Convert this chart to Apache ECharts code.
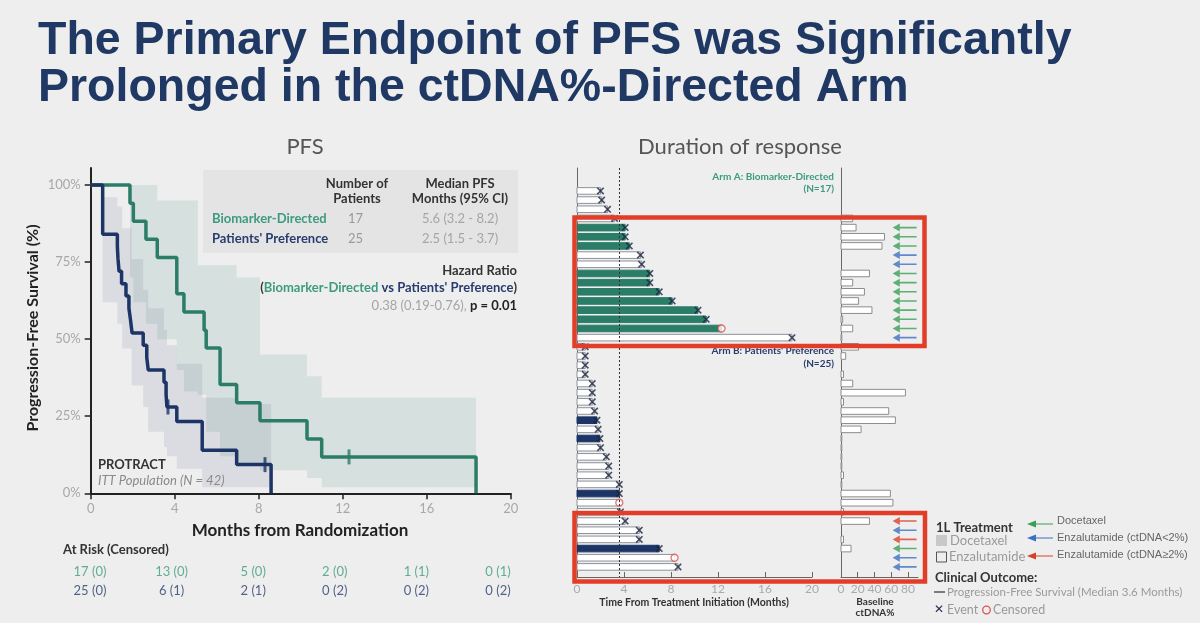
<!DOCTYPE html>
<html lang="en">
<head>
<meta charset="UTF-8">
<title>PFS - ctDNA%-Directed Arm</title>
<script src="https://cdn.jsdelivr.net/npm/echarts@6/dist/echarts.min.js"></script>
<style>
  html, body { margin: 0; padding: 0; background: #eeeeee; }
  #main { width: 1200px; height: 623px; }
</style>
</head>
<body>
<div id="main"></div>
<script>
// ---- KM curves: [month, survival %] at every drop ----
var kmGreen = [[0,100],[1.87,94.1],[2.03,88.2],[2.63,82.4],[3.17,76.5],[4.1,64.7],[4.44,58.8],[5.4,52.9],[5.5,47.1],[6.16,35.3],[6.95,29.4],[8.06,23.5],[10.3,17.6],[11.0,11.8],[18.35,0]];
var kmNavy = [[0,100],[0.57,84],[1.27,80],[1.3,76],[1.35,72],[1.47,68],[1.68,64],[1.82,60],[1.9,56],[1.97,52],[2.5,48],[2.67,44],[2.74,40],[3.49,36],[3.59,32],[3.63,28],[4.1,23.3],[5.31,14.0],[6.95,9.3],[8.59,0]];
var censGreen = [[12.3,11.8]];
var censNavy = [[3.68,28],[8.3,9.3]];
// confidence bands: [from, to, lower %, upper %]
var ciGreen = [[1.87,2.03,70,100],[2.03,2.63,62,100],[2.63,3.17,55,100],[3.17,4.1,50,95],[4.1,4.44,40,95],[4.44,5.1,33,95],[5.1,5.5,32,74],[5.5,6.16,20,74],[6.16,6.95,12,74],[6.95,8.06,9.5,70],[8.06,10.3,7.5,45],[10.3,11.0,5,38],[11.0,18.35,2,31]];
var ciNavy = [[0.57,1.27,62,96],[1.27,1.5,55,93],[1.5,1.95,47,86],[1.95,2.5,35,76],[2.5,2.74,28,66],[2.74,3.49,20,60],[3.49,3.63,15,53],[3.63,4.1,12,48],[4.1,5.31,8,42],[5.31,6.95,2,31],[6.95,8.59,2,29]];

// at risk table
var riskTimes = [0,4,8,12,16,20];
var riskGreen = ['17 (0)','13 (0)','5 (0)','2 (0)','1 (1)','0 (1)'];
var riskNavy = ['25 (0)','6 (1)','2 (1)','0 (2)','0 (2)','0 (2)'];

// ---- swimmer plot, top to bottom ----
// fill: 1 = Docetaxel (filled), 0 = Enzalutamide (open); outcome x = event, o = censored
var armAMonths = [2.0,2.1,2.6,3.2,4.1,4.1,4.45,5.4,5.5,6.2,6.2,7.0,8.1,10.3,11.0,12.3,18.3];
var armAFill   = [0,0,0,0,1,1,1,0,0,1,1,1,1,1,1,1,0];
var armAOut    = ['x','x','x','x','x','x','x','x','x','x','x','x','x','x','x','o','x'];
var armACtdna  = [0,0,0,14,18,52,49,0,0,34,14,28,21,37,2,14,1];
var armAArrow  = ['','','','','g','g','g','b','b','g','g','g','g','g','g','g','b'];

var armBMonths = [0.7,0.7,0.7,0.7,1.3,1.3,1.3,1.5,1.7,1.8,1.95,2.0,2.5,2.7,2.7,3.6,3.6,3.6,3.7,4.1,5.3,5.3,7.0,8.3,8.6];
var armBFill   = [0,0,0,0,0,0,0,0,1,0,1,0,0,0,0,0,1,0,0,0,0,0,1,0,0];
var armBOut    = ['x','x','x','x','x','x','x','x','x','x','x','x','x','x','x','x','x','o','x','x','x','x','x','o','x'];
var armBCtdna  = [21,5.6,0,3,14,77,3,57,65,24,1,1,1,1,3,1,59,62,3,34,0,3,12,0,0];
var armBArrow  = ['','','','','','','','','','','','','','','','','','','','r','b','r','g','b','b'];

var medianPfs = 3.6;

var TEAL = '#2b7d68', NAVY = '#1c3566';
var TEAL_T = '#3d9b80', NAVY_T = '#283d6e';
var arrowColors = { g: '#3a9f55', b: '#3d6fc2', r: '#d9402c' };

// build rows
var bars = [], events = [], censored = [], ctdna = [], arrows = [];
function addArm(months, fill, out, ct, arr, arm, offset) {
  for (var i = 0; i < months.length; i++) {
    var row = offset + i;
    bars.push([months[i], row, fill[i], arm]);
    if (out[i] === 'x') events.push([months[i], row]);
    else censored.push([months[i], row]);
    if (ct[i] > 0) ctdna.push([ct[i], row]);
    if (arr[i]) arrows.push({ value: [76, row], itemStyle: { color: arrowColors[arr[i]] } });
  }
}
addArm(armAMonths, armAFill, armAOut, armACtdna, armAArrow, 0, 0);
addArm(armBMonths, armBFill, armBOut, armBCtdna, armBArrow, 1, armAMonths.length);

var riskData = [];
riskTimes.forEach(function (t, i) {
  riskData.push({ value: [t, 0, riskGreen[i]], label: { color: TEAL_T } });
  riskData.push({ value: [t, 1, riskNavy[i]], label: { color: NAVY_T } });
});

function bandRender(color) {
  return function (params, api) {
    var p0 = api.coord([api.value(0), api.value(3)]);
    var p1 = api.coord([api.value(1), api.value(2)]);
    return { type: 'rect', shape: { x: p0[0], y: p0[1], width: p1[0] - p0[0], height: p1[1] - p0[1] },
             style: { fill: color } };
  };
}

var X_PATH = 'path://M1.5,0 L5,3.5 L8.5,0 L10,1.5 L6.5,5 L10,8.5 L8.5,10 L5,6.5 L1.5,10 L0,8.5 L3.5,5 L0,1.5 Z';
var ARROW_PATH = 'path://M0,5 L9,0 L9,4 L30,4 L30,6 L9,6 L9,10 Z';

function txt(x, y, text, font, fill, align, extra) {
  var el = { type: 'text', x: x, y: y, z: 100,
    style: { text: text, font: font, fill: fill, textAlign: align || 'left', align: align || 'left',
             textVerticalAlign: 'middle', verticalAlign: 'middle' } };
  if (extra) for (var k in extra) el[k] = extra[k];
  return el;
}
function arrowG(x, y, color) {
  return [
    { type: 'line', z: 100, shape: { x1: x + 8, y1: y, x2: x + 26, y2: y }, style: { stroke: color, lineWidth: 1 } },
    { type: 'polygon', z: 100, shape: { points: [[x, y], [x + 9, y - 3.5], [x + 9, y + 3.5]] }, style: { fill: color } }
  ];
}

var graphics = [
  { type: 'rect', z: -10, shape: { x: 203, y: 170, width: 315, height: 83 }, style: { fill: '#e4e4e4' } },
  txt(38, 41, 'The Primary Endpoint of PFS was Significantly', 'bold 46.5px "Liberation Sans", Arial', '#1f3864'),
  txt(38, 88, 'Prolonged in the ctDNA%-Directed Arm', 'bold 46.5px "Liberation Sans", Arial', '#1f3864'),
  txt(305, 147, 'PFS', '22px Lato', '#555555', 'center'),
  txt(740, 147, 'Duration of response', '22px Lato', '#555555', 'center'),

  txt(357, 184, 'Number of', 'bold 13px Lato', '#333333', 'center'),
  txt(357, 199, 'Patients', 'bold 13px Lato', '#333333', 'center'),
  txt(460, 184, 'Median PFS', 'bold 13px Lato', '#333333', 'center'),
  txt(460, 199, 'Months (95% CI)', 'bold 13px Lato', '#333333', 'center'),
  txt(212, 219, 'Biomarker-Directed', 'bold 13px Lato', TEAL_T),
  txt(348, 219, '17', '13px Lato', '#9a9a9a'),
  txt(460, 219, '5.6 (3.2 - 8.2)', '13px Lato', '#a5a5a5', 'center'),
  txt(212, 239, "Patients' Preference", 'bold 13px Lato', NAVY_T),
  txt(348, 239, '25', '13px Lato', '#9a9a9a'),
  txt(460, 239, '2.5 (1.5 - 3.7)', '13px Lato', '#a5a5a5', 'center'),
  txt(517, 271, 'Hazard Ratio', 'bold 13px Lato', '#333333', 'right'),
  { type: 'text', x: 517, y: 288, z: 100, style: {
      text: '{d|(}{g|Biomarker-Directed}{n| vs Patients\' Preference}{d|)}',
      textAlign: 'right', align: 'right', textVerticalAlign: 'middle', verticalAlign: 'middle',
      font: 'bold 13px Lato',
      rich: { d: { fill: '#333333', font: 'bold 13px Lato' }, g: { fill: TEAL_T, font: 'bold 13px Lato' }, n: { fill: NAVY_T, font: 'bold 13px Lato' } } } },
  { type: 'text', x: 517, y: 306, z: 100, style: {
      text: '{a|0.38 (0.19-0.76), }{b|p = 0.01}',
      textAlign: 'right', align: 'right', textVerticalAlign: 'middle', verticalAlign: 'middle',
      font: '13px Lato',
      rich: { a: { fill: '#a5a5a5', font: '13px Lato' }, b: { fill: '#222222', font: 'bold 13px Lato' } } } },

  txt(98, 465, 'PROTRACT', 'bold 13px Lato', '#333333'),
  txt(98, 481, 'ITT Population (N = 42)', 'italic 13px Lato', '#8a8a8a'),
  txt(33, 328, 'Progression-Free Survival (%)', 'bold 16px Lato', '#222222', 'center', { rotation: Math.PI / 2 }),
  txt(300, 531, 'Months from Randomization', 'bold 17px Lato', '#222222', 'center'),
  txt(63, 550, 'At Risk (Censored)', 'bold 13px Lato', '#333333'),

  txt(834, 177, 'Arm A: Biomarker-Directed', 'bold 10px Lato', TEAL_T, 'right'),
  txt(834, 189, '(N=17)', 'bold 10px Lato', TEAL_T, 'right'),
  txt(834, 351, "Arm B: Patients' Preference", 'bold 10px Lato', NAVY_T, 'right'),
  txt(834, 364, '(N=25)', 'bold 10px Lato', NAVY_T, 'right'),
  txt(694, 603, 'Time From Treatment Initiation (Months)', 'bold 10.5px Lato', '#333333', 'center'),
  txt(875, 602, 'Baseline', 'bold 10px Lato', '#333333', 'center'),
  txt(875, 613, 'ctDNA%', 'bold 10px Lato', '#333333', 'center'),

  { type: 'rect', z: 200, shape: { x: 574.5, y: 217.5, width: 350, height: 128.5 }, style: { fill: 'none', stroke: '#e23d28', lineWidth: 4.5 } },
  { type: 'rect', z: 200, shape: { x: 574.5, y: 513, width: 350.5, height: 68.5 }, style: { fill: 'none', stroke: '#e23d28', lineWidth: 4.5 } },

  txt(936, 528, '1L Treatment', 'bold 13px Lato', '#333333'),
  { type: 'rect', z: 100, shape: { x: 936, y: 535, width: 11, height: 11 }, style: { fill: '#c8c8c8' } },
  txt(950, 541, 'Docetaxel', '13px Lato', '#9a9a9a'),
  { type: 'rect', z: 100, shape: { x: 936.5, y: 552, width: 10, height: 10 }, style: { fill: 'none', stroke: '#555555', lineWidth: 1 } },
  txt(949, 557, 'Enzalutamide', '13px Lato', '#9a9a9a'),
  txt(1057, 521, 'Docetaxel', '11px "Liberation Sans", Arial', '#666666'),
  txt(1057, 538, 'Enzalutamide (ctDNA<2%)', '11px "Liberation Sans", Arial', '#666666'),
  txt(1057, 555, 'Enzalutamide (ctDNA\u22652%)', '11px "Liberation Sans", Arial', '#666666'),
  txt(935, 578, 'Clinical Outcome:', 'bold 13px Lato', '#333333'),
  { type: 'line', z: 100, shape: { x1: 934, y1: 592, x2: 945, y2: 592 }, style: { stroke: '#555555', lineWidth: 1.5 } },
  txt(947, 592, 'Progression-Free Survival (Median 3.6 Months)', '11.5px Lato', '#9a9a9a'),
  txt(934, 610, '\u2715', 'bold 12px "DejaVu Sans"', '#1d2a4a'),
  txt(947, 610, 'Event', '12.5px Lato', '#9a9a9a'),
  { type: 'circle', z: 100, shape: { cx: 986.5, cy: 610, r: 3.8 }, style: { fill: 'none', stroke: '#d9534f', lineWidth: 1.3 } },
  txt(993, 610, 'Censored', '12.5px Lato', '#9a9a9a')
];
graphics = graphics.concat(arrowG(1027, 524, arrowColors.g), arrowG(1027, 538, arrowColors.b), arrowG(1027, 556, arrowColors.r));

var chart = echarts.init(document.getElementById('main'));
var option = {
  backgroundColor: '#eeeeee',
  animation: false,
  textStyle: { fontFamily: 'Lato' },
  grid: [
    { left: 90.7, top: 168, width: 420, height: 325.3 },
    { left: 90, top: 562, width: 408, height: 38 },
    { left: 577, top: 168, width: 235, height: 409 },
    { left: 841, top: 168, width: 77, height: 409 }
  ],
  xAxis: [
    { gridIndex: 0, type: 'value', min: 0, max: 20, interval: 4,
      axisLine: { onZero: false, lineStyle: { color: '#222', width: 2 } },
      axisTick: { length: 6, lineStyle: { color: '#222', width: 1.5 } },
      axisLabel: { color: '#a8a8a8', fontSize: 13, margin: 9 }, splitLine: { show: false } },
    { gridIndex: 1, type: 'value', min: 0, max: 20, show: false },
    { gridIndex: 2, type: 'value', min: 0, max: 20, interval: 4,
      axisLine: { onZero: false, lineStyle: { color: '#666', width: 1 } },
      axisTick: { inside: true, length: 5, lineStyle: { color: '#666' } },
      axisLabel: { color: '#aaaaaa', fontSize: 12, margin: 6 }, splitLine: { show: false } },
    { gridIndex: 3, type: 'value', min: 0, max: 92,
      axisLine: { onZero: false, lineStyle: { color: '#666', width: 1 } },
      axisTick: { inside: true, length: 5, lineStyle: { color: '#666' }, customValues: [0, 20, 40, 60, 80] },
      axisLabel: { color: '#aaaaaa', fontSize: 12, margin: 6, customValues: [0, 20, 40, 60, 80] },
      splitLine: { show: false } }
  ],
  yAxis: [
    { gridIndex: 0, type: 'value', min: 0, max: 105.5,
      axisLine: { show: true, onZero: false, lineStyle: { color: '#222', width: 2 } },
      axisTick: { show: true, length: 6, lineStyle: { color: '#222', width: 1.5 }, customValues: [0, 25, 50, 75, 100] },
      axisLabel: { color: '#a8a8a8', fontSize: 13, margin: 10, formatter: '{value}%', customValues: [0, 25, 50, 75, 100] },
      splitLine: { show: false } },
    { gridIndex: 1, type: 'category', data: ['A', 'B'], inverse: true, show: false },
    { gridIndex: 2, type: 'value', min: -2.5, max: 42.1, inverse: true,
      axisLine: { show: true, onZero: false, lineStyle: { color: '#666', width: 1 } },
      axisTick: { show: false }, axisLabel: { show: false }, splitLine: { show: false } },
    { gridIndex: 3, type: 'value', min: -2.5, max: 42.1, inverse: true,
      axisLine: { show: true, onZero: false, lineStyle: { color: '#666', width: 1 } },
      axisTick: { show: false }, axisLabel: { show: false }, splitLine: { show: false } }
  ],
  series: [
    { type: 'custom', xAxisIndex: 0, yAxisIndex: 0, renderItem: bandRender('rgba(120,172,158,0.2)'),
      encode: { x: [0, 1], y: [2, 3] }, data: ciGreen, silent: true, z: 1 },
    { type: 'custom', xAxisIndex: 0, yAxisIndex: 0, renderItem: bandRender('rgba(118,132,158,0.17)'),
      encode: { x: [0, 1], y: [2, 3] }, data: ciNavy, silent: true, z: 1 },
    { type: 'line', xAxisIndex: 0, yAxisIndex: 0, step: 'end', data: kmGreen, symbol: 'none',
      lineStyle: { color: TEAL, width: 3.5 }, z: 3 },
    { type: 'line', xAxisIndex: 0, yAxisIndex: 0, step: 'end', data: kmNavy, symbol: 'none',
      lineStyle: { color: NAVY, width: 3.5 }, z: 4 },
    { type: 'scatter', xAxisIndex: 0, yAxisIndex: 0, data: censGreen, symbol: 'rect', symbolSize: [3, 15],
      itemStyle: { color: TEAL }, z: 5 },
    { type: 'scatter', xAxisIndex: 0, yAxisIndex: 0, data: censNavy, symbol: 'rect', symbolSize: [3, 15],
      itemStyle: { color: NAVY }, z: 5 },
    { type: 'scatter', xAxisIndex: 1, yAxisIndex: 1, data: riskData, symbolSize: 0,
      label: { show: true, position: 'inside', fontSize: 13, fontFamily: 'Lato',
               formatter: function (p) { return p.value[2]; } } },
    { type: 'custom', xAxisIndex: 2, yAxisIndex: 2, data: bars, encode: { x: 0, y: 1 }, z: 2,
      renderItem: function (params, api) {
        var row = api.value(1);
        var p0 = api.coord([0, row]);
        var p1 = api.coord([api.value(0), row]);
        var filled = api.value(2) === 1;
        var col = api.value(3) === 0 ? TEAL : NAVY;
        return { type: 'rect', shape: { x: p0[0], y: p0[1] - 3.3, width: p1[0] - p0[0], height: 6.6 },
                 style: { fill: filled ? col : '#ffffff', stroke: filled ? col : '#8d929b', lineWidth: 1 } };
      } },
    { type: 'scatter', xAxisIndex: 2, yAxisIndex: 2, data: events, symbol: X_PATH, symbolSize: 7.5,
      itemStyle: { color: '#1a2440' }, z: 4,
      markLine: { silent: true, symbol: 'none', label: { show: false },
                  lineStyle: { type: [2, 2], color: '#333', width: 1 },
                  data: [{ xAxis: medianPfs }] } },
    { type: 'scatter', xAxisIndex: 2, yAxisIndex: 2, data: censored, symbol: 'circle', symbolSize: 7,
      itemStyle: { color: '#ffffff', borderColor: '#d9534f', borderWidth: 1.3 }, z: 4 },
    { type: 'custom', xAxisIndex: 3, yAxisIndex: 3, data: ctdna, encode: { x: 0, y: 1 }, z: 2,
      renderItem: function (params, api) {
        var row = api.value(1);
        var p0 = api.coord([0, row]);
        var p1 = api.coord([api.value(0), row]);
        return { type: 'rect', shape: { x: p0[0], y: p0[1] - 3.3, width: p1[0] - p0[0], height: 6.6 },
                 style: { fill: '#ffffff', stroke: '#8d8d8d', lineWidth: 1 } };
      } },
    { type: 'scatter', xAxisIndex: 3, yAxisIndex: 3, data: arrows, symbol: ARROW_PATH, symbolSize: [24, 8], z: 4 }
  ],
  graphic: graphics
};
chart.setOption(option);
</script>
</body>
</html>
